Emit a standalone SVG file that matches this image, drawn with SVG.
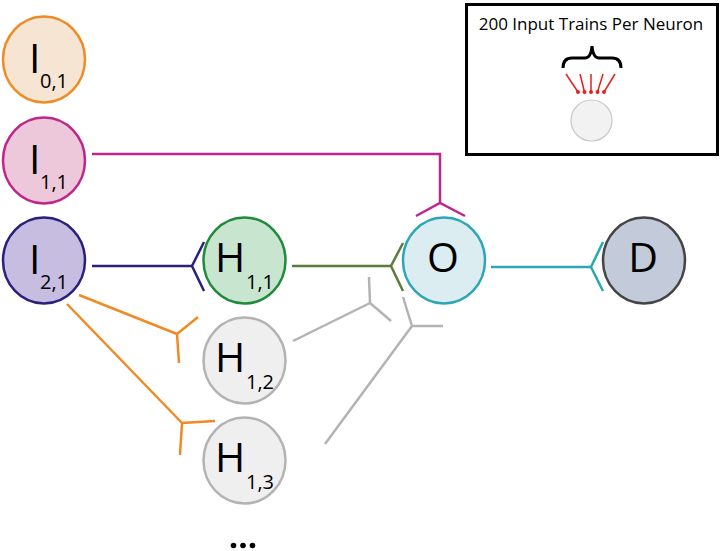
<svg xmlns="http://www.w3.org/2000/svg" width="720" height="551" viewBox="0 0 720 551">
<style>
  .lbl { font-family: "Open Sans", "Liberation Sans", sans-serif; font-size: 41px; fill: #000; }
  .sub { font-family: "Open Sans", "Liberation Sans", sans-serif; font-size: 20px; fill: #000; }
  .node { stroke-width: 2.5; }
  .c { fill: none; stroke-width: 2.5; }
</style>
<rect width="720" height="551" fill="#ffffff"/>

<g id="connectors">
  <!-- I1,1 -> O (magenta) -->
  <g stroke="#c0268a" class="c">
    <polyline points="92,154 440,154 440,203"/>
    <polyline points="416,216 440,203 465,216"/>
  </g>
  <!-- I2,1 -> H1,1 (navy) -->
  <g stroke="#2a1f7c" class="c">
    <line x1="92" y1="266" x2="192" y2="266"/>
    <polyline points="204,242 192,266 204,291"/>
  </g>
  <!-- H1,1 -> O (green) -->
  <g stroke="#5a7d3c" class="c">
    <line x1="292" y1="266" x2="391" y2="266"/>
    <polyline points="403,243 391,266 403,291"/>
  </g>
  <!-- O -> D (teal) -->
  <g stroke="#2aa6b5" class="c">
    <line x1="491" y1="267" x2="591" y2="267"/>
    <polyline points="603,242 591,267 603,291"/>
  </g>
  <!-- I2,1 -> H1,2 (orange) -->
  <g stroke="#ef8a25" class="c">
    <line x1="79" y1="295" x2="177" y2="334"/>
    <polyline points="198,317 177,334 179,363"/>
  </g>
  <!-- I2,1 -> H1,3 (orange) -->
  <g stroke="#ef8a25" class="c">
    <line x1="67" y1="304" x2="182" y2="423"/>
    <polyline points="215,421 182,423 180,455"/>
  </g>
  <!-- H1,2 -> O (gray) -->
  <g stroke="#b3b3b3" class="c">
    <line x1="293" y1="341" x2="370" y2="303"/>
    <polyline points="369,277 370,303 391,321"/>
  </g>
  <!-- H1,3 -> O (gray) -->
  <g stroke="#b3b3b3" class="c">
    <line x1="325" y1="444" x2="412" y2="326"/>
    <polyline points="403,297 412,326 443,326"/>
  </g>
</g>

<g id="I01">
  <ellipse class="node" cx="44" cy="59.5" rx="41" ry="43" fill="#f6e5d2" stroke="#ef8a25"/>
  <text class="lbl" x="29" y="73">I</text>
  <text class="sub" x="40" y="88">0,1</text>
</g>
<g id="I11">
  <ellipse class="node" cx="44" cy="160.5" rx="41" ry="43" fill="#edc8da" stroke="#c0268a"/>
  <text class="lbl" x="29" y="174">I</text>
  <text class="sub" x="40" y="189">1,1</text>
</g>
<g id="I21">
  <ellipse class="node" cx="44" cy="260.5" rx="41" ry="43" fill="#c7bde0" stroke="#2a1f7c"/>
  <text class="lbl" x="29" y="274">I</text>
  <text class="sub" x="40" y="289">2,1</text>
</g>
<g id="H11">
  <ellipse class="node" cx="244.5" cy="260.5" rx="41" ry="43" fill="#c8e5cf" stroke="#1e8a3a"/>
  <text class="lbl" x="215" y="272">H</text>
  <text class="sub" x="246" y="289">1,1</text>
</g>
<g id="H12">
  <ellipse class="node" cx="244.5" cy="360.5" rx="41" ry="43" fill="#eeefee" stroke="#b3b3b3"/>
  <text class="lbl" x="215" y="372">H</text>
  <text class="sub" x="246" y="389">1,2</text>
</g>
<g id="H13">
  <ellipse class="node" cx="244.5" cy="460.5" rx="41" ry="43" fill="#eeefee" stroke="#b3b3b3"/>
  <text class="lbl" x="215" y="472">H</text>
  <text class="sub" x="246" y="489">1,3</text>
</g>
<g id="O">
  <ellipse class="node" cx="444" cy="260.5" rx="41" ry="43" fill="#dcedf2" stroke="#2aa6b5"/>
  <text class="lbl" x="443" y="272" text-anchor="middle">O</text>
</g>
<g id="D">
  <ellipse class="node" cx="644" cy="260.5" rx="41" ry="43" fill="#c3cbdb" stroke="#444444"/>
  <text class="lbl" x="643" y="272" text-anchor="middle">D</text>
</g>

<g id="ellipsis">
  <circle cx="233.5" cy="545.5" r="2.8" fill="#000"/>
  <circle cx="243" cy="545.5" r="2.8" fill="#000"/>
  <circle cx="252.5" cy="545.5" r="2.8" fill="#000"/>
</g>

<g id="legend">
  <rect x="466.5" y="4.5" width="251" height="150" fill="#ffffff" stroke="#000" stroke-width="3"/>
  <text x="591" y="30" text-anchor="middle" font-family="'Open Sans', 'Liberation Sans', sans-serif" font-size="17" fill="#000">200 Input Trains Per Neuron</text>
  <path d="M563,68 Q563,58 572,58 L585,58 Q591,58 592,46 Q593,58 599,58 L612,58 Q621,58 621,68" fill="none" stroke="#000" stroke-width="3"/>
  <g stroke="#e52020" stroke-width="1.5">
    <line x1="566" y1="74" x2="578" y2="92"/>
    <line x1="580" y1="74" x2="584.5" y2="92"/>
    <line x1="591" y1="74" x2="591" y2="92"/>
    <line x1="603" y1="74" x2="597.5" y2="92"/>
    <line x1="615" y1="74" x2="604" y2="92"/>
  </g>
  <g fill="#e52020">
    <circle cx="578" cy="92" r="2"/>
    <circle cx="584.5" cy="92" r="2"/>
    <circle cx="591" cy="92" r="2"/>
    <circle cx="597.5" cy="92" r="2"/>
    <circle cx="604" cy="92" r="2"/>
  </g>
  <circle cx="591.5" cy="120.5" r="20.5" fill="#f2f2f2" stroke="#c8c8c8" stroke-width="1.2"/>
</g>
</svg>
